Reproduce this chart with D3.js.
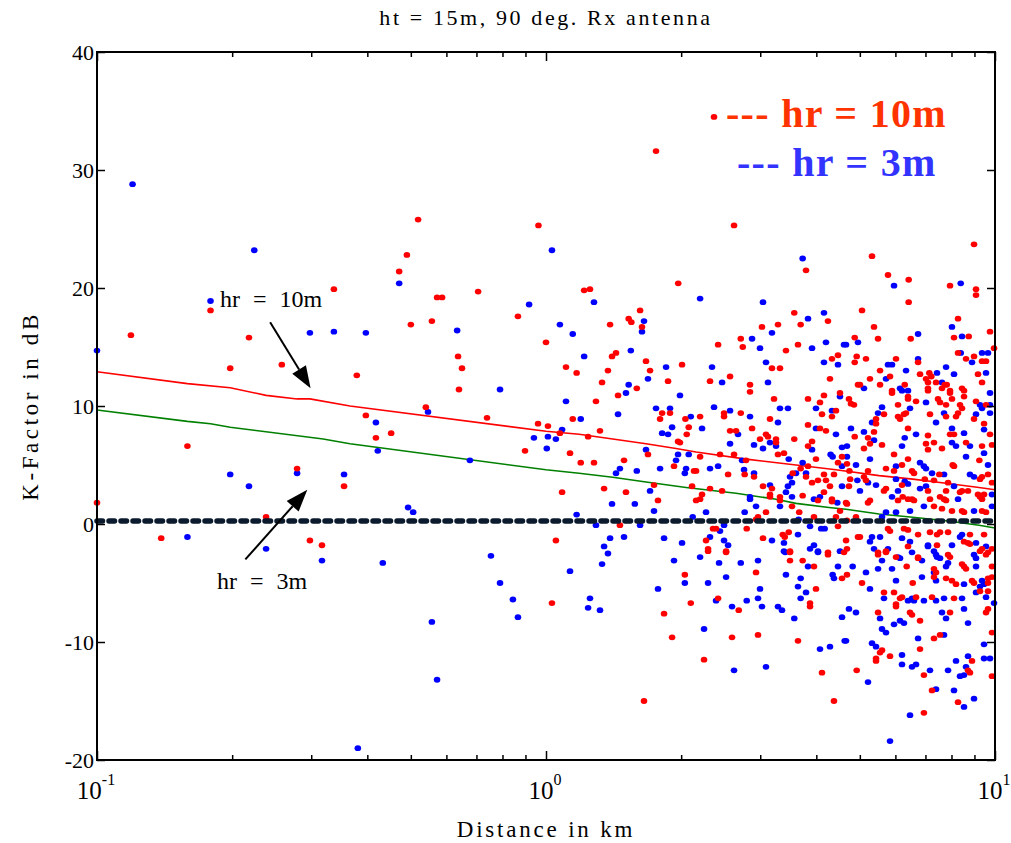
<!DOCTYPE html>
<html>
<head>
<meta charset="utf-8">
<script src="https://cdnjs.cloudflare.com/ajax/libs/d3/7.8.5/d3.min.js"></script>
<style>
	body { margin: 0; background: #fff; }
	text { font-family: "Liberation Serif", "Times New Roman", serif; }
</style>
</head>
<body>
<svg id="chart" width="1011" height="843"></svg>
<script>

/////////////////////////////////////////////////////////
/////////////////-----DATA-----//////////////////////////
/////////////////////////////////////////////////////////
const titleText = "ht = 15m, 90 deg. Rx antenna";
const xLabelText = "Distance in km";
const yLabelText = "K-Factor in dB";

const xMajorTicks = [0.1, 1, 10];
const xMajorExponents = ["-1", "0", "1"];
const xMinorTicks = [0.2, 0.3, 0.4, 0.5, 0.6, 0.7, 0.8, 0.9, 2, 3, 4, 5, 6, 7, 8, 9];
const yTicks = [-20, -10, 0, 10, 20, 30, 40];

// fitted curve, hr = 10m (red)
const fit10Dist = [0.1, 0.159, 0.198, 0.238, 0.279, 0.298, 0.366, 1.0, 1.185, 1.408, 1.67, 1.948, 2.159, 2.789, 3.604, 4.424, 5.518, 6.558, 7.78, 9.212, 10];
const fit10K    = [12.9, 11.9, 11.55, 10.9, 10.6, 10.6, 10.0, 7.86, 7.6, 7.2, 6.8, 6.4, 6.1, 5.5, 5.0, 4.6, 4.1, 3.8, 3.45, 3.1, 2.9];

// fitted curve, hr = 3m (green)
const fit3Dist = [0.1, 0.159, 0.179, 0.198, 0.319, 0.366, 1.0, 1.185, 1.408, 1.67, 2.051, 2.65, 3.253, 3.604, 4.268, 4.658, 5.518, 6.558, 7.78, 9.212, 10];
const fit3K    = [9.66, 8.7, 8.5, 8.2, 7.2, 6.8, 4.6, 4.3, 3.96, 3.56, 3.1, 2.6, 2.1, 1.75, 1.4, 1.25, 0.85, 0.57, 0.28, -0.1, -0.34];

// dashed reference
const refDist = [0.1, 10];
const refK = [0.25, 0.25];

// measured K-factor, hr = 10m  [km, dB]
const red10 = [
	[0.1,1.8],[0.119,16.0],[0.159,6.6],[0.139,-1.2],[0.198,13.2],[0.218,15.8],[0.179,18.1],[0.258,13.5],[0.279,4.7],[0.238,0.6],
	[0.337,19.9],[0.298,-1.4],[0.317,-1.8],[0.355,3.2],[0.379,12.6],[0.397,9.2],[0.418,7.3],[0.452,7.7],[0.471,21.4],[0.490,22.8],
	[0.500,16.9],[0.519,25.8],[0.540,9.9],[0.557,17.2],[0.572,19.2],[0.587,19.2],[0.637,14.2],[0.650,13.2],[0.640,11.4],[0.706,19.7],
	[0.739,9.0],[0.866,17.6],[0.898,6.2],[0.960,8.5],[0.962,25.3],
	[1.758,31.6],[1.97,20.4],[1.216,19.8],[1.253,19.9],[1.62,18.1],[1.528,17.4],[1.549,17.1],[1.636,16.7],[1.389,16.9],[1.0,15.4],
	[1.432,14.5],[1.403,14.2],[1.67,13.8],[2.009,13.5],[1.108,13.3],[1.17,12.8],[1.374,13.0],[1.705,13.0],[1.87,12.1],[1.333,12.0],
	[1.593,11.5],[1.447,10.9],[1.292,10.4],[1.814,9.4],[1.889,9.4],[1.147,8.9],[1.795,8.9],[2.044,8.9],
	[1.01,8.3],[1.074,7.7],[1.241,7.4],[1.319,7.9],[2.079,8.2],[2.058,7.6],[1.968,7.0],[1.988,6.9],[1.687,5.9],[1.131,6.0],
	[1.195,5.2],[1.279,5.2],[1.492,5.4],[1.928,4.9],[2.136,4.5],[1.74,3.3],[2.115,3.2],[1.086,2.7],[1.347,3.0],[1.507,2.7],
	[1.776,2.0],[1.461,-0.1],[1.052,-1.4],[2.038,-4.3],[1.031,-6.7],[2.101,-6.7],[1.832,-7.6],[1.909,-9.6],[1.653,-15.0],
	[2.367,34.5],[2.623,25.3],[3.794,21.5],[3.572,17.9],[4.246,17.2],[3.691,16.9],[3.286,16.9],[3.027,16.7],[2.715,15.7],[2.743,15.0],
	[2.417,15.2],[3.423,14.7],[3.641,15.2],[4.47,14.3],[4.334,14.0],[3.186,13.2],[3.32,13.2],[2.57,12.5],[2.319,12.1],[2.847,11.8],
	[2.847,11.2],[4.29,12.3],[3.22,10.6],[3.833,10.6],[4.16,10.9],[4.516,11.1],[4.076,10.3],[2.492,9.4],[2.492,9.1],[2.715,9.4],
	[4.118,9.3],[4.424,9.6],[4.334,9.1],[2.204,9.1],[3.154,8.9],
	[3.833,8.4],[4.076,8.1],[4.203,7.9],[2.57,7.9],[2.65,7.9],[2.877,8.1],[2.997,7.2],[3.09,7.6],[3.122,7.4],[3.253,7.2],
	[3.253,6.9],[3.572,7.2],[3.833,6.6],[3.913,7.0],[3.286,5.9],[3.388,6.0],[2.204,5.7],[2.441,5.9],[2.623,5.9],[2.789,5.4],
	[2.77,4.2],[2.906,4.0],[2.544,4.2],[2.159,4.5],[3.993,5.5],[4.563,5.7],[4.47,5.2],[3.691,4.7],[3.544,4.3],[3.833,4.9],
	[4.16,4.2],[4.379,4.2],[3.794,4.0],[3.913,3.5],[4.034,3.7],[4.203,3.7],[4.29,3.2],[3.186,3.0],[3.043,3.2],[2.319,3.0],
	[2.467,2.8],[2.226,2.5],[2.204,2.1],[2.159,2.0],[3.154,2.5],[3.154,2.3],[3.32,2.3],[3.32,2.0],[3.729,2.4],[4.034,2.0],
	[4.16,2.7],[4.334,2.1],[4.334,1.9],[3.531,1.5],[4.516,1.1],[3.09,1.0],[3.664,1.0],[3.952,0.6],[2.966,0.6],[2.936,0.4],
	[4.424,0.6],[4.47,-0.2],[2.355,-0.4],[2.392,-0.4],[2.799,-0.4],[2.272,-1.4],[3.043,-1.2],[3.367,-0.9],[3.402,-1.1],[3.472,-0.7],
	[3.495,-2.3],[3.495,-2.4],[4.246,-2.4],[4.246,-2.6],[4.61,-2.4],[2.296,-2.1],[2.296,-2.3],[2.518,-2.3],[2.518,-2.4],[3.495,-3.1],
	[3.729,-3.1],[3.952,-3.6],[2.936,-4.1],[4.563,-4.6],[3.993,-5.5],[2.417,-6.3],[3.873,-6.7],[3.873,-7.0],[2.687,-7.3],[2.596,-9.6],
	[2.966,-9.4],[3.641,-9.9],[2.249,-11.5],[4.118,-12.6],[4.379,-15.0],
	[8.98,23.7],[5.322,22.7],[5.777,21.1],[6.423,20.7],[7.94,20.2],[9.072,19.9],[9.072,19.4],[6.423,18.8],[5.056,18.1],[8.273,17.4],
	[5.377,16.7],[9.747,16.3],[4.87,15.8],[5.489,15.7],[6.49,15.7],[8.104,15.8],[8.74,15.9],[9.95,14.9],[8.273,14.5],[4.92,14.2],
	[4.87,13.7],[5.16,14.0],[6.019,14.0],[6.74,13.7],[8.619,14.0],[8.98,14.2],[9.356,13.8],[9.55,13.8],[5.546,13.0],[5.267,12.3],
	[5.837,12.5],[6.808,12.7],[7.14,12.8],[7.214,12.5],[9.165,12.7],[7.02,12.3],[7.092,12.0],[7.39,12.0],[9.356,12.0],[4.952,11.8],
	[5.003,11.8],[5.546,11.8],[7.728,11.8],[7.808,11.8],[6.294,11.8],[7.092,11.5],[7.092,11.3],[7.62,11.5],[7.94,11.3],[7.94,11.1],
	[8.444,11.5],[8.531,11.3],[8.531,10.8],[5.897,11.3],[5.897,11.1],[6.401,10.8],[6.401,10.6],[4.729,10.6],[4.778,10.2],[4.852,10.1],
	[6.67,10.4],[7.466,10.6],[7.543,10.3],[8.02,10.6],[9.072,10.4],[6.081,10.1],[7.78,10.1],[8.358,10.1],[9.55,10.1],[6.336,9.4],
	[6.27,9.3],[8.444,9.8],[8.273,9.4],[5.659,9.3],[7.165,9.3],[6.081,9.1],[6.144,8.9],[7.78,9.1],[8.188,9.1],[5.433,8.9],[8.98,8.9],
	[5.433,8.5],[6.401,8.1],[9.453,8.5],[5.377,7.8],[4.87,7.4],[7.092,7.5],[7.94,7.6],[8.104,7.6],[9.747,7.6],[5.214,7.3],
	[5.267,6.8],[5.602,6.7],[7.02,6.8],[7.092,6.3],[7.313,6.9],[8.619,6.9],[4.681,5.1],[5.107,6.4],[7.62,6.4],[9.356,6.6],
	[9.847,6.7],[5.958,5.9],[6.401,5.5],[5.718,4.7],[6.207,5.0],[8.05,5.0],[8.104,4.9],[9.228,5.4],[4.74,4.5],[5.214,4.5],
	[5.958,4.5],[6.534,4.5],[6.601,4.3],[7.516,4.2],[9.356,4.0],[9.648,4.2],[5.107,4.0],[4.758,3.8],[5.16,3.7],[6.207,3.3],
	[6.977,3.8],[7.313,3.7],[7.86,3.5],[9.26,3.8],[9.847,3.5],[4.729,3.2],[5.718,3.0],[5.659,2.8],[7.092,2.8],[7.78,2.8],
	[8.358,2.7],[8.444,2.8],[8.708,2.8],[9.165,2.5],[9.453,2.5],[9.26,2.3],[9.356,2.1],[6.23,2.3],[6.401,2.1],[6.534,2.1],
	[6.601,2.0],[7.165,2.1],[7.543,2.3],[7.7,2.1],[7.78,2.0],[5.267,2.0],[5.214,1.8],[6.081,2.0],[4.658,1.8],[4.681,1.7],
	[7.62,1.3],[7.313,1.5],[8.444,1.1],[8.531,1.0],[8.02,1.1],[9.356,1.1],[9.55,1.0],[4.902,0.6],[4.681,0.3],[6.27,-0.4],
	[6.401,-0.5],[5.777,-0.4],[5.837,-0.6],[6.74,-0.9],[7.165,-0.7],[7.428,-0.9],[7.543,-0.7],[7.86,-0.7],[8.796,-0.9],[9.453,-0.9],
	[4.952,-1.1],[5.003,-1.1],[4.658,-1.4],[7.428,-1.8],[8.531,-1.5],[8.708,-1.6],[8.796,-1.7],[9.356,-2.1],[9.26,-2.3],[5.489,-2.4],
	[5.489,-2.6],[5.718,-2.3],[5.718,-2.4],[6.401,-1.9],[6.019,-2.8],[6.74,-2.8],[6.74,-2.9],[7.86,-2.6],[7.94,-2.8],[9.55,-2.6],
	[9.648,-2.4],[9.847,-2.1],[4.681,-2.1],[6.358,-3.6],[8.444,-3.4],[8.531,-3.6],[8.619,-3.8],[7.313,-3.8],[7.39,-4.1],[7.313,-4.5],
	[9.847,-3.6],[4.681,-4.3],[7.78,-4.6],[8.02,-4.8],[8.188,-5.1],[5.056,-5.0],[6.558,-5.0],[8.888,-4.8],[8.98,-5.0],[9.648,-4.6],
	[9.648,-5.0],[9.847,-4.5],[9.26,-5.7],[9.648,-5.7],[5.659,-5.8],[5.958,-5.8],[6.67,-6.2],[7.24,-6.2],[6.207,-6.2],[6.144,-6.3],
	[6.019,-6.8],[6.019,-7.0],[8.104,-6.3],[5.489,-7.5],[6.467,-7.5],[6.534,-7.7],[6.808,-8.2],[7.94,-7.5],[9.648,-7.2],[9.55,-7.5],
	[9.847,-9.2],[7.543,-9.4],[7.313,-9.7],[5.602,-10.7],[5.546,-10.9],[6.808,-10.6],[5.433,-11.4],[5.433,-11.6],[5.837,-11.2],[8.888,-11.6],
	[4.92,-12.4],[8.708,-12.4],[8.796,-12.6],[6.945,-12.8],[9.847,-12.9],[7.24,-14.1],[8.273,-15.1],[6.945,-16.0]
];

// measured K-factor, hr = 3m  [km, dB]
const blue3 = [
	[0.1,14.7],[0.120,28.8],[0.159,-1.1],[0.179,18.9],[0.198,4.2],[0.218,3.2],[0.224,23.2],[0.238,-2.1],[0.279,4.3],[0.298,16.2],
	[0.337,16.3],[0.317,-3.1],[0.355,4.2],[0.381,-19.0],[0.397,16.2],[0.418,8.6],[0.422,6.2],[0.433,-3.3],[0.471,20.4],[0.493,1.4],
	[0.506,1.0],[0.546,9.5],[0.557,-8.3],[0.572,-13.2],[0.634,16.4],[0.677,5.4],[0.754,-2.7],[0.790,11.4],[0.790,-5.0],[0.844,-6.4],
	[0.866,-7.9],[0.917,18.6],[0.940,7.3],
	[1.031,23.2],[1.279,18.8],[1.653,17.2],[1.636,16.3],[1.074,16.9],[1.147,16.1],[1.545,14.7],[1.216,14.2],[1.851,13.3],[1.687,12.3],
	[1.528,11.8],[1.507,11.1],[1.988,10.9],[1.108,10.4],[1.447,9.3],[1.758,9.8],[1.889,9.8],[1.195,8.9],[2.101,9.1],
	[1.086,8.0],[1.01,7.4],[1.052,7.2],[1.004,6.4],[1.909,8.2],[1.814,7.7],[1.87,7.6],[1.67,6.3],[1.968,5.9],[2.079,5.9],
	[1.948,5.4],[1.795,4.7],[1.461,4.7],[1.432,4.3],[1.593,4.5],[2.051,4.7],[2.038,4.3],[1.705,2.8],[1.403,1.7],[1.577,1.7],
	[1.74,1.1],[1.17,0.8],[2.122,0.6],[1.292,-0.1],[1.62,-0.1],[1.389,-1.2],[1.492,-1.1],[1.832,-1.2],[2.009,-1.6],[1.347,-1.9],
	[1.374,-2.5],[1.928,-3.1],[1.333,-3.4],[1.131,-4.0],[2.038,-5.0],[1.776,-5.5],[1.253,-6.3],[1.241,-7.1],[1.319,-7.3],
	[3.729,22.5],[2.204,19.1],[3.043,18.8],[4.16,17.9],[3.833,17.4],[3.186,16.2],[2.877,15.7],[2.997,14.9],[3.913,14.9],[4.203,15.4],
	[4.61,15.2],[4.16,13.7],[4.47,13.5],[3.09,13.7],[2.343,13.3],[2.467,12.0],[3.122,12.0],[4.516,10.8],[2.367,9.9],[2.57,9.6],
	[2.847,9.1],[3.32,9.8],[3.458,9.8],[3.993,9.8],[4.334,9.6],
	[3.286,8.6],[3.993,8.1],[4.424,7.6],[2.226,8.1],[2.677,7.6],[3.154,6.9],[3.253,6.6],[2.57,6.8],[2.906,6.7],[3.043,6.4],
	[3.913,6.3],[4.563,6.5],[3.472,5.5],[2.733,5.4],[2.761,4.6],[2.906,4.3],[2.319,4.7],[2.417,4.9],[4.304,5.9],[4.349,5.7],
	[3.729,5.2],[3.604,4.3],[3.794,4.3],[4.563,4.9],[3.495,4.0],[3.531,3.5],[3.458,3.2],[4.563,3.2],[3.154,3.3],[3.423,2.7],
	[2.847,2.3],[2.847,2.1],[3.531,2.3],[3.952,2.1],[4.076,2.3],[4.455,1.8],[2.936,1.5],[3.32,1.5],[2.272,1.0],[2.77,1.0],
	[3.652,0.4],[2.492,-0.1],[3.873,-0.2],[4.1,-0.4],[4.175,-0.4],[2.441,-0.6],[2.319,-1.1],[2.492,-1.4],[2.544,-1.8],[3.186,-1.4],
	[3.641,-0.9],[3.388,-1.6],[3.952,-1.8],[3.388,-2.3],[3.41,-2.4],[3.873,-2.1],[4.034,-2.3],[4.034,-2.4],[4.516,-2.3],[2.204,-2.8],
	[2.966,-3.1],[2.429,-3.3],[2.715,-3.3],[3.833,-3.6],[4.47,-3.6],[3.423,-4.3],[4.349,-4.3],[4.379,-4.6],[2.518,-4.5],[3.691,-4.6],
	[2.296,-5.0],[3.641,-5.3],[2.997,-5.5],[3.794,-5.8],[2.966,-6.3],[3.691,-6.3],[2.392,-6.5],[2.799,-6.5],[2.596,-7.0],[3.027,-7.0],
	[3.286,-7.0],[3.354,-7.3],[4.563,-7.9],[3.572,-8.0],[2.249,-8.9],[4.625,-9.9],[4.076,-10.6],[4.29,-10.4],[2.623,-12.4],[3.09,-12.1],
	[5.958,20.2],[8.388,20.4],[8.02,16.7],[6.74,16.1],[4.952,15.4],[8.444,15.9],[4.658,15.2],[8.388,14.5],[9.356,14.5],[9.648,14.5],
	[6.74,14.0],[8.888,13.7],[5.777,13.5],[5.897,13.5],[7.78,13.3],[6.336,13.0],[5.718,12.3],[7.428,12.8],[8.104,12.7],[9.55,12.8],
	[7.62,12.0],[5.107,11.5],[6.144,11.5],[6.207,11.3],[6.401,11.3],[9.747,11.1],[7.02,10.3],[9.26,10.1],[9.356,9.8],[9.747,10.1],
	[5.602,9.9],[6.467,9.8],[5.489,9.4],[7.7,9.4],[9.072,9.3],[9.747,9.4],
	[5.322,8.6],[7.39,8.6],[8.02,8.1],[4.778,8.1],[5.107,7.8],[6.67,7.6],[8.531,7.7],[9.453,8.0],[5.377,7.1],[6.294,7.3],
	[6.207,6.6],[8.02,6.9],[8.188,6.6],[8.796,6.6],[4.681,6.6],[4.681,5.7],[9.453,6.0],[5.267,5.5],[8.619,5.7],[4.902,5.0],
	[6.019,4.9],[6.808,5.2],[6.945,4.9],[7.02,4.7],[7.24,4.3],[9.648,5.0],[7.7,4.2],[8.796,4.2],[8.98,4.0],[4.937,3.7],
	[5.214,3.5],[5.433,3.3],[6.019,3.8],[6.294,3.6],[6.401,3.4],[8.104,3.2],[7.02,3.2],[5.003,2.8],[6.081,2.8],[6.808,3.0],
	[5.897,2.3],[8.273,2.1],[9.847,2.5],[6.945,1.5],[6.467,1.1],[6.019,1.0],[5.718,1.0],[8.98,1.1],[9.847,1.5],[5.602,0.6],
	[8.358,-1.1],[8.444,-0.9],[5.322,-1.1],[5.546,-1.1],[6.207,-1.2],[5.267,-1.5],[6.467,-1.5],[7.092,-1.8],[7.092,-1.9],[8.02,-1.8],
	[9.072,-1.6],[9.55,-1.9],[5.377,-2.1],[5.777,-2.1],[6.081,-2.8],[6.144,-2.9],[6.534,-2.4],[6.876,-3.1],[7.313,-2.3],[7.39,-2.6],
	[7.428,-2.8],[7.543,-2.9],[8.98,-2.6],[9.072,-2.9],[5.602,-3.1],[4.82,-3.6],[5.489,-3.8],[5.897,-3.8],[7.86,-3.3],[7.78,-3.6],
	[7.313,-4.1],[9.072,-3.6],[5.16,-4.1],[6.876,-4.5],[7.39,-4.8],[6.019,-4.8],[8.531,-5.1],[9.356,-4.8],[9.453,-5.1],[9.26,-5.3],
	[9.072,-5.8],[9.95,-6.7],[5.267,-5.5],[6.534,-6.3],[6.401,-6.5],[6.601,-6.5],[5.659,-6.3],[6.945,-6.5],[7.39,-6.5],[7.7,-6.3],
	[8.444,-6.3],[9.55,-6.2],[8.531,-7.2],[4.729,-7.2],[4.902,-7.5],[5.546,-8.0],[6.144,-8.2],[6.27,-8.4],[5.958,-8.5],[7.62,-7.5],
	[7.78,-8.0],[8.708,-8.4],[5.602,-8.9],[5.718,-9.2],[7.7,-9.4],[6.74,-9.7],[4.658,-9.9],[5.322,-10.1],[5.433,-10.4],[9.453,-10.2],
	[6.207,-11.1],[6.207,-11.9],[6.534,-12.1],[6.67,-11.9],[8.188,-11.6],[8.708,-11.2],[8.619,-12.1],[9.453,-11.4],[9.747,-11.4],[7.165,-12.4],
	[7.86,-12.4],[8.531,-12.8],[8.358,-12.9],[5.214,-13.4],[7.39,-14.0],[8.104,-14.1],[8.98,-14.8],[8.531,-15.5],[6.467,-16.2],[5.837,-18.4]
];

const legendItems = ["--- hr = 10m", "--- hr = 3m"];
const legendColors = ["#ff3300", "#3333ff"];

// arrow annotations, in data units: [fromKm, fromDb, toKm, toDb]
const annotations = [
	{ text: "hr = 10m", at: [0.188, 18.4], arrow: [0.243, 17.1, 0.299, 11.5] },
	{ text: "hr = 3m",  at: [0.185, -5.5], arrow: [0.214, -3.0, 0.294, 2.9] }
];


/////////////////////////////////////////////////////////
///////////////-----CHART-----///////////////////////////
/////////////////////////////////////////////////////////
let chart = {
	box: { left: 97, right: 995, top: 52, bottom: 760 },

	scale: {
		x: d3.scaleLog(),
		y: d3.scaleLinear()
	},

	init: function() {
		let b = chart.box;
		chart.scale.x.domain([0.1, 10]).range([b.left, b.right]);
		chart.scale.y.domain([-20, 40]).range([b.bottom, b.top]);
		chart.svg = d3.select("#chart");
	},

	drawAxes: function() {
		let svg = chart.svg, b = chart.box, x = chart.scale.x, y = chart.scale.y;

		// y ticks on both sides, pointing inward
		svg.append("g").attr("transform", "translate(" + b.left + ",0)")
			.call(d3.axisLeft(y).tickValues(yTicks).tickSizeInner(-8).tickSizeOuter(0).tickPadding(3)
				.tickFormat(d => String(d)))
			.call(g => g.select(".domain").remove())
			.call(g => g.selectAll("line").attr("stroke", "#000").attr("stroke-width", 1.5))
			.call(g => g.selectAll("text").attr("font-size", 22).attr("fill", "#000")
				.attr("font-family", "Liberation Serif"));

		svg.append("g").attr("transform", "translate(" + b.right + ",0)")
			.call(d3.axisRight(y).tickValues(yTicks).tickSizeInner(-8).tickSizeOuter(0).tickFormat(""))
			.call(g => g.select(".domain").remove())
			.call(g => g.selectAll("line").attr("stroke", "#000").attr("stroke-width", 1.5));

		// x ticks, major + minor, bottom and top
		[[d3.axisBottom, b.bottom], [d3.axisTop, b.top]].forEach(function(a) {
			svg.append("g").attr("transform", "translate(0," + a[1] + ")")
				.call(a[0](x).tickValues(xMinorTicks).tickSizeInner(-5).tickSizeOuter(0).tickFormat(""))
				.call(g => g.select(".domain").remove())
				.call(g => g.selectAll("line").attr("stroke", "#000").attr("stroke-width", 1.5));
			svg.append("g").attr("transform", "translate(0," + a[1] + ")")
				.call(a[0](x).tickValues(xMajorTicks).tickSizeInner(-9).tickSizeOuter(0).tickFormat(""))
				.call(g => g.select(".domain").remove())
				.call(g => g.selectAll("line").attr("stroke", "#000").attr("stroke-width", 1.5));
		});

		// 10^n labels
		let lab = svg.append("g").selectAll("text").data(xMajorTicks).enter().append("text")
			.attr("x", d => x(d) - 1)
			.attr("y", b.bottom + 39)
			.attr("text-anchor", "middle")
			.attr("font-size", 25)
			.attr("fill", "#000");
		lab.append("tspan").text("10");
		lab.append("tspan").attr("dy", -14).attr("font-size", 16).text((d, i) => xMajorExponents[i]);

		// frame
		svg.append("rect")
			.attr("x", b.left).attr("y", b.top)
			.attr("width", b.right - b.left).attr("height", b.bottom - b.top)
			.attr("fill", "none").attr("stroke", "#000").attr("stroke-width", 2);
	},

	drawTitles: function() {
		let svg = chart.svg, b = chart.box;
		svg.append("text").attr("x", (b.left + b.right) / 2).attr("y", 25)
			.attr("text-anchor", "middle").attr("font-size", 22).attr("letter-spacing", 2.6)
			.text(titleText);
		svg.append("text").attr("x", (b.left + b.right) / 2).attr("y", 837)
			.attr("text-anchor", "middle").attr("font-size", 23).attr("letter-spacing", 2.8)
			.text(xLabelText);
		svg.append("text")
			.attr("transform", "translate(38," + (b.top + b.bottom) / 2 + ") rotate(-90)")
			.attr("text-anchor", "middle").attr("font-size", 23).attr("letter-spacing", 3.6)
			.text(yLabelText);
	},

	drawFits: function() {
		let x = chart.scale.x, y = chart.scale.y;
		let line = d3.line().x(d => x(d[0])).y(d => y(d[1]));
		chart.svg.append("path").datum(fit10Dist.map((d, i) => [d, fit10K[i]]))
			.attr("d", line).attr("fill", "none").attr("stroke", "#ff0000").attr("stroke-width", 1.6);
		chart.svg.append("path").datum(fit3Dist.map((d, i) => [d, fit3K[i]]))
			.attr("d", line).attr("fill", "none").attr("stroke", "#008000").attr("stroke-width", 1.6);
	},

	drawPoints: function() {
		let x = chart.scale.x, y = chart.scale.y;
		chart.svg.append("g").selectAll("ellipse").data(blue3).enter().append("ellipse")
			.attr("cx", d => x(d[0])).attr("cy", d => y(d[1]))
			.attr("rx", 3.3).attr("ry", 2.9).attr("fill", "#0000ff");
		chart.svg.append("g").selectAll("ellipse").data(red10).enter().append("ellipse")
			.attr("cx", d => x(d[0])).attr("cy", d => y(d[1]))
			.attr("rx", 3.3).attr("ry", 2.9).attr("fill", "#ff0000");
	},

	drawReference: function() {
		let x = chart.scale.x, y = chart.scale.y;
		let line = d3.line().x(d => x(d[0])).y(d => y(d[1]));
		chart.svg.append("path").datum(refDist.map((d, i) => [d, refK[i]]))
			.attr("d", line).attr("fill", "none")
			.attr("stroke", "#0b1a2c").attr("stroke-width", 5.5)
			.attr("stroke-linecap", "round").attr("stroke-dasharray", "5.5 6.5");
	},

	drawAnnotations: function() {
		let svg = chart.svg, x = chart.scale.x, y = chart.scale.y;
		annotations.forEach(function(a) {
			svg.append("text").attr("x", x(a.at[0])).attr("y", y(a.at[1]))
				.attr("font-size", 24).attr("word-spacing", 7).text(a.text);
			let x1 = x(a.arrow[0]), y1 = y(a.arrow[1]), x2 = x(a.arrow[2]), y2 = y(a.arrow[3]);
			let ang = Math.atan2(y2 - y1, x2 - x1), len = 22, half = 8;
			let bx = x2 - len * Math.cos(ang), by = y2 - len * Math.sin(ang);
			svg.append("line").attr("x1", x1).attr("y1", y1).attr("x2", bx).attr("y2", by)
				.attr("stroke", "#000").attr("stroke-width", 2);
			let pts = [[x2, y2],
				[bx + half * Math.sin(ang), by - half * Math.cos(ang)],
				[bx - half * Math.sin(ang), by + half * Math.cos(ang)]];
			svg.append("polygon").attr("points", pts.map(p => p.join(",")).join(" ")).attr("fill", "#000");
		});
	},

	drawLegend: function() {
		chart.svg.append("g").selectAll("text").data(legendItems).enter().append("text")
			.attr("x", (d, i) => i == 0 ? 726 : 737)
			.attr("y", (d, i) => 127 + i * 49)
			.attr("font-size", 40).attr("font-weight", "bold").attr("letter-spacing", 1.3)
			.attr("fill", (d, i) => legendColors[i])
			.text(d => d);
	}
};


/////////////////////////////////////////////////////////
/////////////////////-----NEXT----///////////////////////
/////////////////////////////////////////////////////////
chart.init();
chart.drawFits();
chart.drawPoints();
chart.drawReference();
chart.drawAxes();
chart.drawTitles();
chart.drawAnnotations();
chart.drawLegend();

</script>
</body>
</html>
